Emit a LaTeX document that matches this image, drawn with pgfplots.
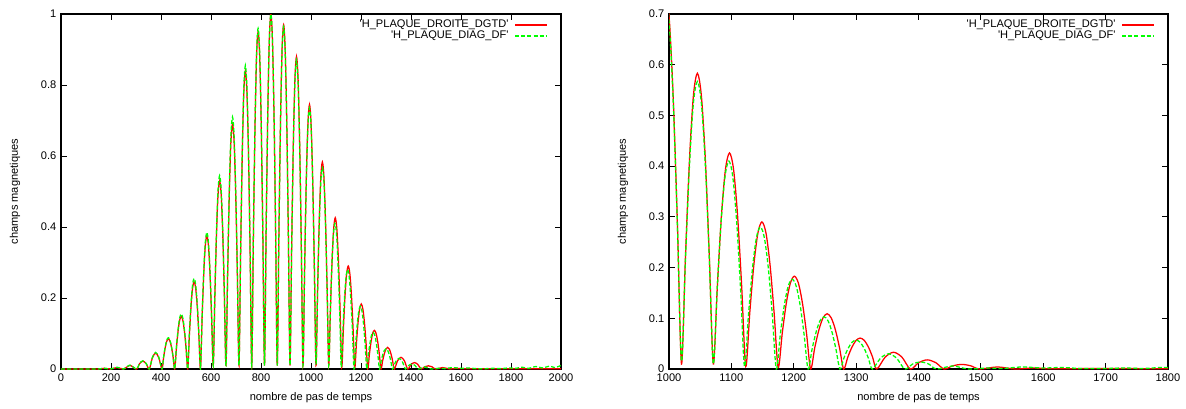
\documentclass[border=0pt]{standalone}
\usepackage{pgfplots}
\pgfplotsset{compat=1.18}
\usepackage{pgfplotstable}
\usepackage{fontspec}
\setmainfont{Liberation Sans}

% 'H_PLAQUE_DROITE_DGTD'
\pgfplotstableread{
x y
0 0
100 0
148 0
173.5 0.002
199 0
224.5 0.004
250 0
276 0.01
302 0
314.75 0.0156
327.5 0.022
340.25 0.0156
353 0
365.75 0.0318
378.5 0.045
391.25 0.0318
404 0
410.4 0.0325
416.8 0.0601
423.1 0.0785
429.5 0.085
435.9 0.0785
442.3 0.0601
448.6 0.0325
455 0
461.5 0.0566
468 0.1047
474.5 0.1367
481 0.148
487.5 0.1367
494 0.1047
500.5 0.0566
507 0
513.4 0.0938
519.8 0.1732
526.1 0.2264
532.5 0.245
538.9 0.2264
545.3 0.1732
551.6 0.0938
558 0
564.4 0.1435
570.8 0.2652
577.1 0.3465
583.5 0.375
589.9 0.3465
596.3 0.2652
602.6 0.1435
609 0.01
615.4 0.2028
621.8 0.3748
628.1 0.4897
634.5 0.53
640.9 0.4897
647.3 0.3748
653.6 0.2028
660 0.01
666.5 0.2641
673 0.4879
679.5 0.6375
686 0.69
692.5 0.6375
699 0.4879
705.5 0.2641
712 0.01
718.4 0.3215
724.8 0.5940
731.1 0.7761
737.5 0.84
743.9 0.7761
750.3 0.5940
756.6 0.3215
763 0.01
769.4 0.3636
775.8 0.6717
782.1 0.8777
788.5 0.95
794.9 0.8777
801.3 0.6717
807.6 0.3636
814 0.01
820.4 0.3827
826.8 0.7071
833.1 0.9239
839.5 1.0
845.9 0.9239
852.3 0.7071
858.6 0.3827
865 0.01
871.4 0.3712
877.8 0.6859
884.1 0.8962
890.5 0.97
896.9 0.8962
903.3 0.6859
909.6 0.3712
916 0.01
922.5 0.3368
929 0.6222
935.5 0.8130
942 0.88
948.5 0.8130
955 0.6222
961.5 0.3368
968 0.01
974.5 0.2851
981 0.5268
987.5 0.6883
994 0.745
1000.5 0.6883
1007 0.5268
1013.5 0.2851
1020 0.01
1026.4 0.2231
1032.8 0.4122
1039.1 0.5386
1045.5 0.583
1051.9 0.5386
1058.3 0.4122
1064.6 0.2231
1071 0.01
1077.5 0.1630
1084 0.3012
1090.5 0.3936
1097 0.426
1103.5 0.3936
1110 0.3012
1116.5 0.1630
1123 0.005
1129.5 0.1110
1136 0.2051
1142.5 0.2679
1149 0.29
1155.5 0.2679
1162 0.2051
1168.5 0.1110
1175 0.003
1181.5 0.0700
1188 0.1294
1194.5 0.1691
1201 0.183
1207.5 0.1691
1214 0.1294
1220.5 0.0700
1227 0
1233.6 0.0417
1240.3 0.0771
1246.9 0.1007
1253.5 0.109
1260.1 0.1007
1266.8 0.0771
1273.4 0.0417
1280 0
1286.6 0.0233
1293.3 0.0431
1299.9 0.0564
1306.5 0.061
1313.1 0.0564
1319.8 0.0431
1326.4 0.0233
1333 0
1346.5 0.0233
1360 0.033
1373.5 0.0233
1387 0
1400.5 0.0127
1414 0.018
1427.5 0.0127
1441 0
1455.25 0.0064
1469.5 0.009
1483.75 0.0064
1498 0
1526.5 0.004
1555 0
1583.5 0.002
1612 0.0005
1700 0.001
1800 0.0005
1900 0.001
2000 0.001
}\redtab

% 'H_PLAQUE_DIAG_DF'
\pgfplotstableread{
x y
0 0
100 0
148 0
173.5 0.002
199 0
224.5 0.005
250 0
276 0.011
302 0
314.75 0.0163
327.5 0.023
340.25 0.0163
353 0
365.75 0.0332
378.5 0.047
391.25 0.0332
404 0
410.4 0.0337
416.8 0.0622
423.1 0.0813
429.5 0.088
435.9 0.0813
442.3 0.0622
448.6 0.0337
455 0
461.5 0.0593
468 0.1096
474.5 0.1432
481 0.155
487.5 0.1432
494 0.1096
500.5 0.0593
507 0
513.4 0.0976
519.8 0.1803
526.1 0.2356
532.5 0.255
538.9 0.2356
545.3 0.1803
551.6 0.0976
558 0
564.4 0.1473
570.8 0.2722
577.1 0.3557
583.5 0.385
589.9 0.3557
596.3 0.2722
602.6 0.1473
609 0.01
615.4 0.2086
621.8 0.3854
628.1 0.5035
634.5 0.545
640.9 0.5035
647.3 0.3854
653.6 0.2086
660 0.01
666.5 0.2717
673 0.5020
679.5 0.6560
686 0.71
692.5 0.6560
699 0.5020
705.5 0.2717
712 0.01
718.4 0.3272
724.8 0.6046
731.1 0.7899
737.5 0.855
743.9 0.7899
750.3 0.6046
756.6 0.3272
763 0.01
769.4 0.3674
775.8 0.6788
782.1 0.8869
788.5 0.96
794.9 0.8869
801.3 0.6788
807.6 0.3674
814 0.01
820.4 0.3827
826.8 0.7071
833.1 0.9239
839.5 1.0
845.9 0.9239
852.3 0.7071
858.6 0.3827
865 0.01
871.4 0.3693
877.8 0.6824
884.1 0.8916
890.5 0.965
896.9 0.8916
903.3 0.6824
909.6 0.3693
916 0.01
922.5 0.3329
929 0.6152
935.5 0.8038
942 0.87
948.5 0.8038
955 0.6152
961.5 0.3329
968 0.01
974.5 0.2813
981 0.5197
987.5 0.6791
994 0.735
1000.5 0.6791
1007 0.5197
1013.5 0.2813
1020 0.015
1026.4 0.2170
1032.8 0.4009
1039.1 0.5239
1045.5 0.567
1051.9 0.5239
1058.3 0.4009
1064.6 0.2170
1071 0.01
1077.25 0.1569
1083.5 0.2899
1089.75 0.3788
1096 0.41
1102.25 0.3788
1108.5 0.2899
1114.75 0.1569
1121 0.005
1127.4 0.1072
1133.8 0.1980
1140.1 0.2587
1146.5 0.28
1152.9 0.2587
1159.3 0.1980
1165.6 0.1072
1172 0
1178.4 0.0677
1184.8 0.1252
1191.1 0.1635
1197.5 0.177
1203.9 0.1635
1210.3 0.1252
1216.6 0.0677
1223 0
1229.4 0.0394
1235.8 0.0728
1242.1 0.0952
1248.5 0.103
1254.9 0.0952
1261.3 0.0728
1267.6 0.0394
1274 0
1280.5 0.0218
1287 0.0403
1293.5 0.0527
1300 0.057
1306.5 0.0527
1313 0.0403
1319.5 0.0218
1326 0
1339 0.0212
1352 0.03
1365 0.0212
1378 0
1390.75 0.0099
1403.5 0.014
1416.25 0.0099
1429 0
1454.5 0.006
1480 0
1510 0.002
1535 0.001
1565 0.004
1600 0.002
1630 0.003
1660 0.001
1700 0.001
1730 0.002
1760 0.001
1790 0.003
1820 0.002
1845 0.005
1870 0.002
1900 0.007
1925 0.003
1955 0.008
1975 0.004
2000 0.01
}\greentab

\definecolor{gpred}{RGB}{255,0,0}
\definecolor{gpgreen}{RGB}{0,255,0}

\pgfplotsset{
  gp/.style={
    scale only axis,
    height=266.25pt,
    axis line style={black, line width=0.9pt},
    tick style={black, line width=0.6pt},
    major tick length=4.5pt,
    tick align=inside,
    tick pos=both,
    scaled ticks=false,
    /pgf/number format/1000 sep={},
    /pgf/number format/assume math mode=true,
    tick label style={font=\fontsize{8.3}{10}\selectfont},
    xlabel={nombre de pas de temps},
    ylabel={champs magnetiques},
    every axis x label/.style={at={([yshift=-21.75pt]axis description cs:0.5,0)}, anchor=center, font=\fontsize{8.3}{10}\selectfont},
    every axis y label/.style={at={([xshift=-34.5pt]axis description cs:0,0.5)}, anchor=center, rotate=90, font=\fontsize{8.3}{10}\selectfont},
    legend style={draw=none, fill=none, at={([xshift=-9.75pt,yshift=-4pt]axis description cs:1,1)}, anchor=north east,
      font=\fontsize{8.3}{10}\selectfont, row sep=0pt, column sep=4.5pt, inner sep=0pt,
      nodes={inner sep=0pt, text height=6.1pt, text depth=2.15pt}},
    legend cell align=right,
    legend plot pos=right,
    legend image code/.code={\draw[##1] (0pt,0pt) -- (24pt,0pt);},
  }
}

\begin{document}
\begin{tikzpicture}
\useasboundingbox (-45.75pt,-29.25pt) rectangle (843.75pt,276.75pt);
\begin{axis}[gp,
  at={(0pt,0pt)}, anchor=south west,
  width=375pt,
  xmin=0, xmax=2000, ymin=0, ymax=1,
  xtick={0,200,400,600,800,1000,1200,1400,1600,1800,2000},
  ytick={0,0.2,0.4,0.6,0.8,1},
]
\addplot[color=gpred, line width=0.95pt, solid, smooth, tension=0.5] table[x=x,y=y] {\redtab};
\addlegendentry{\textquotesingle H\_PLAQUE\_DROITE\_DGTD\textquotesingle}
\addplot[color=gpgreen, line width=0.95pt, dash pattern=on 3pt off 1.6pt, smooth, tension=0.5] table[x=x,y=y] {\greentab};
\addlegendentry{\textquotesingle H\_PLAQUE\_DIAG\_DF\textquotesingle}
\end{axis}
\begin{axis}[gp,
  at={(456pt,0pt)}, anchor=south west,
  width=374.25pt,
  xmin=1000, xmax=1800, ymin=0, ymax=0.7,
  xtick={1000,1100,1200,1300,1400,1500,1600,1700,1800},
  ytick={0,0.1,0.2,0.3,0.4,0.5,0.6,0.7},
]
\addplot[color=gpred, line width=0.95pt, solid, smooth, tension=0.5] table[x=x,y=y] {\redtab};
\addlegendentry{\textquotesingle H\_PLAQUE\_DROITE\_DGTD\textquotesingle}
\addplot[color=gpgreen, line width=0.95pt, dash pattern=on 3pt off 1.6pt, smooth, tension=0.5] table[x=x,y=y] {\greentab};
\addlegendentry{\textquotesingle H\_PLAQUE\_DIAG\_DF\textquotesingle}
\end{axis}
\end{tikzpicture}
\end{document}
